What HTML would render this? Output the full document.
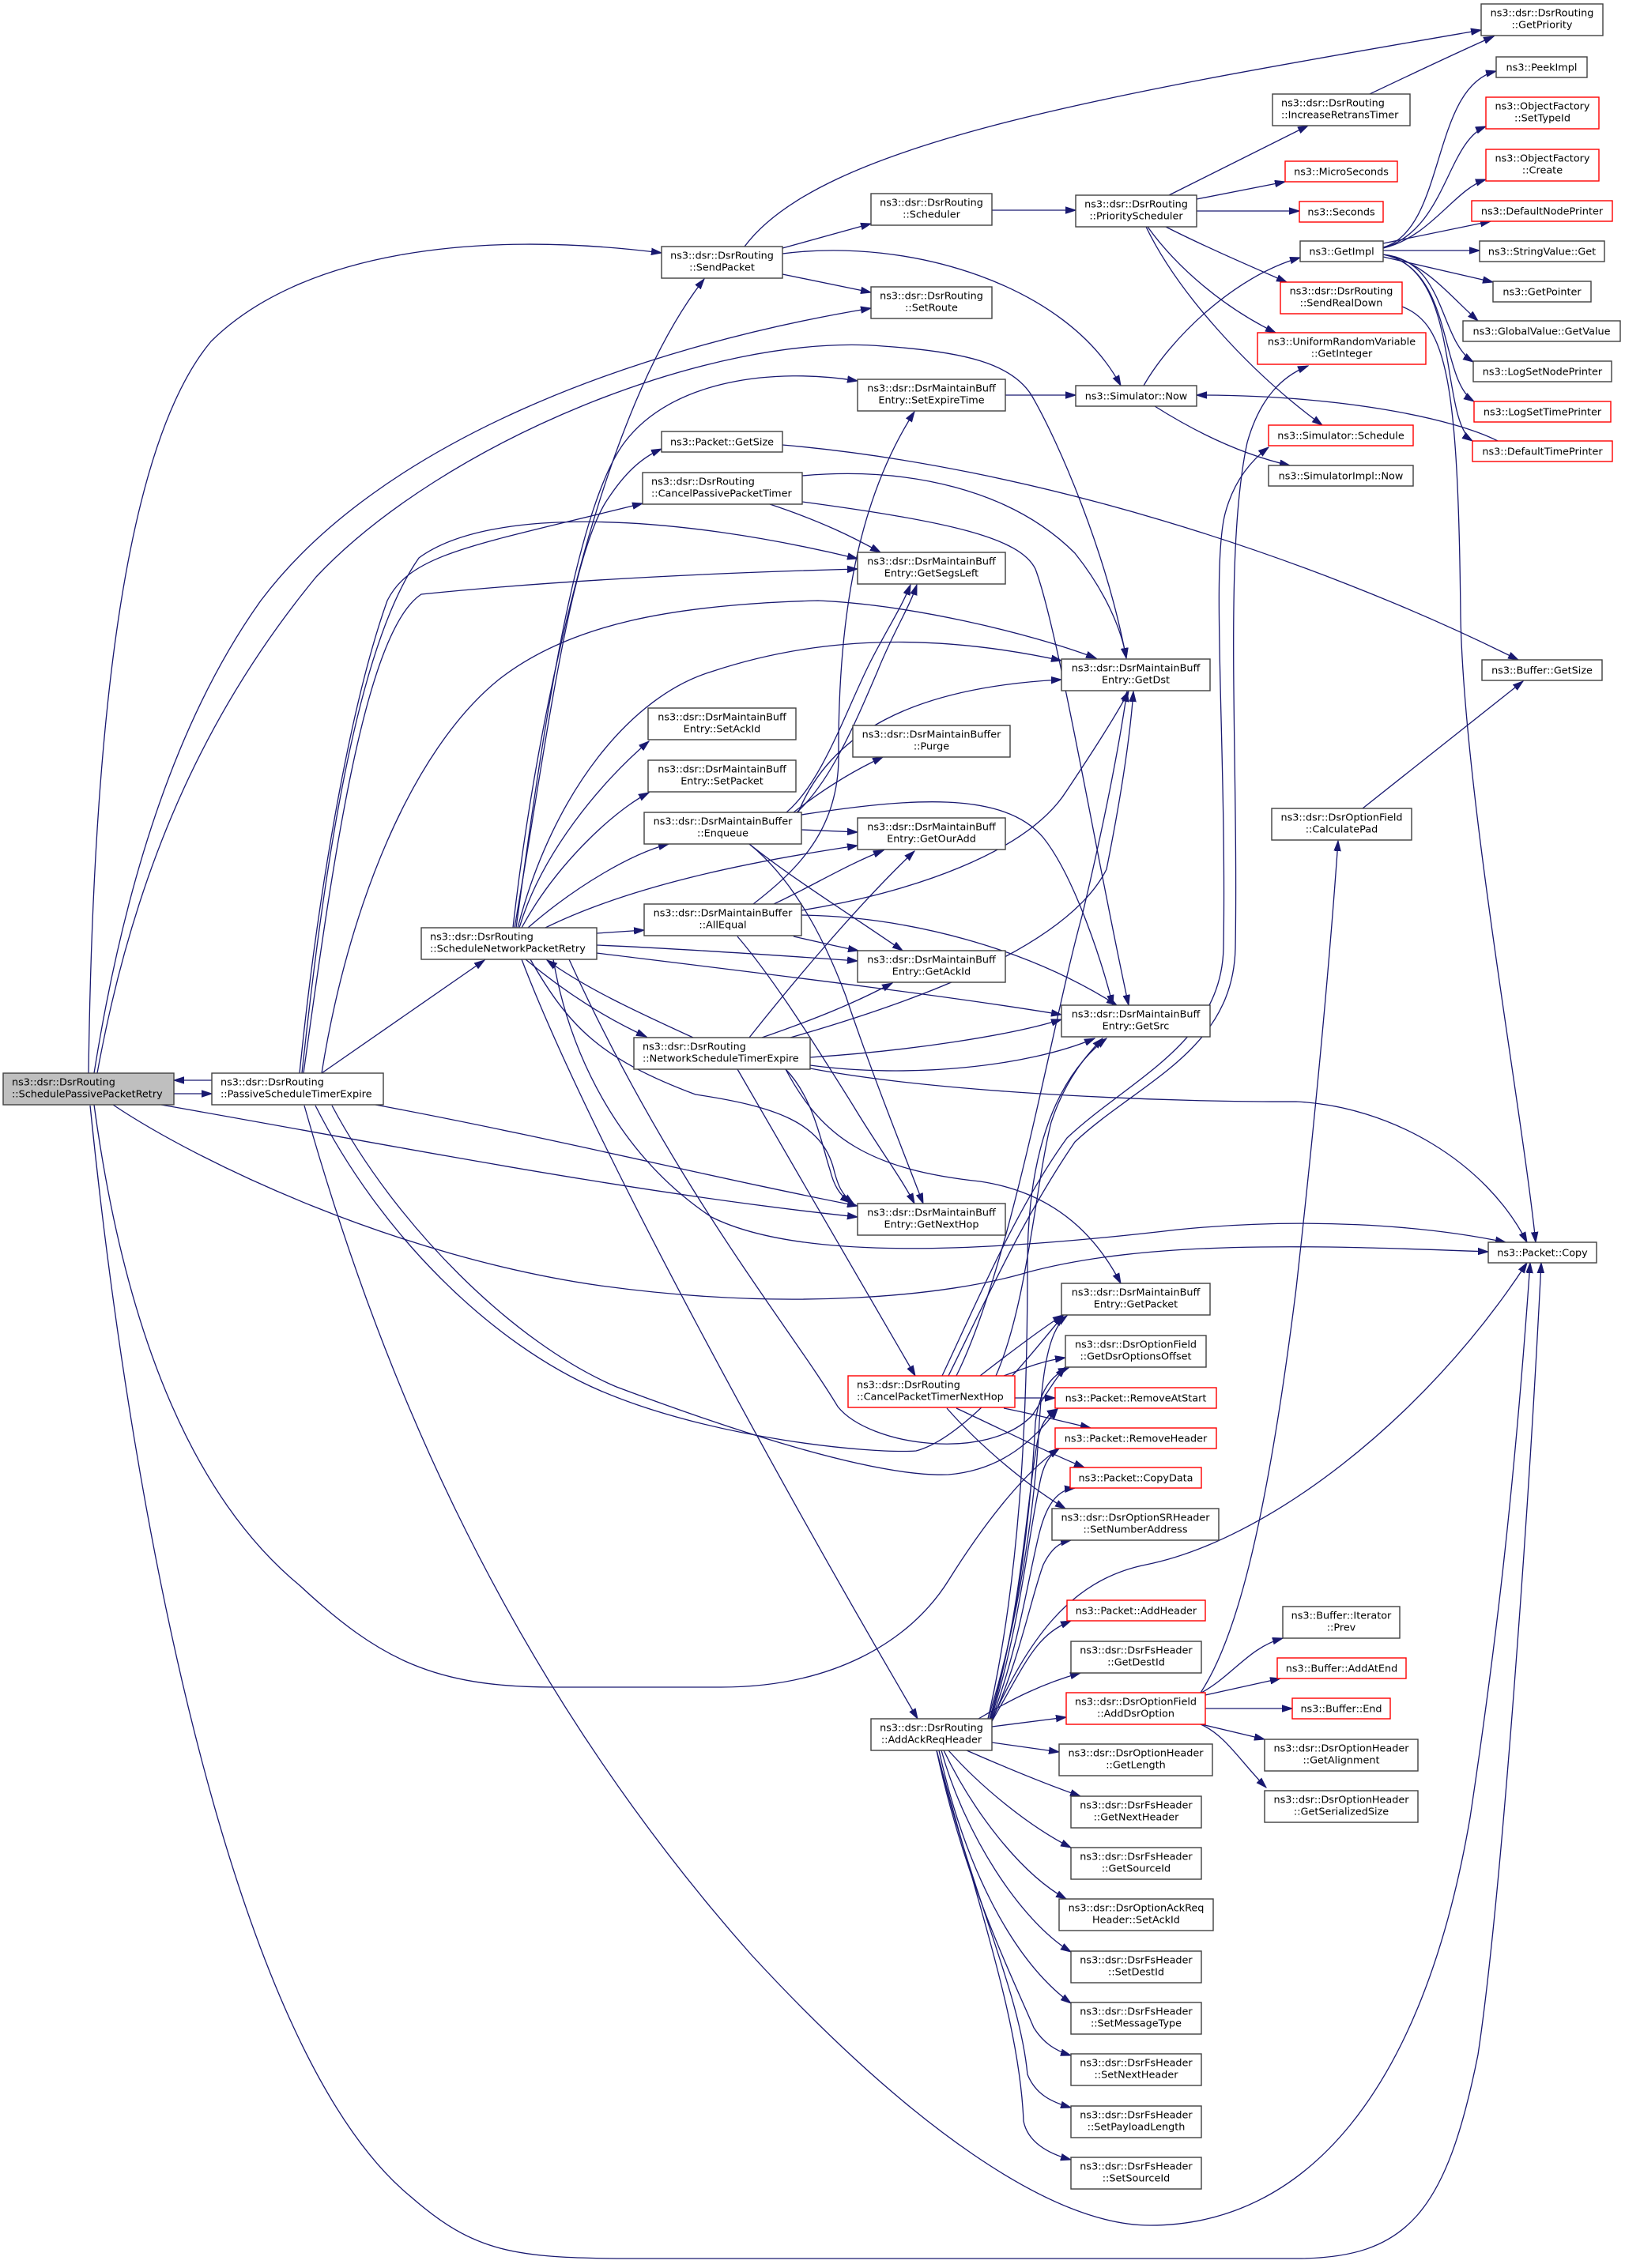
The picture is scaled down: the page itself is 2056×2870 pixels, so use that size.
<!DOCTYPE html>
<html><head><meta charset="utf-8"><style>
html,body{margin:0;padding:0;background:#fff}
svg{display:block}
text{font-family:"DejaVu Sans","Liberation Sans",sans-serif;font-size:12.8px;fill:#000}
.c{text-anchor:middle}
</style></head><body>
<svg xmlns="http://www.w3.org/2000/svg" width="2056" height="2870" viewBox="0 0 2056 2870">
<defs>
<marker id="a" markerUnits="userSpaceOnUse" markerWidth="14" markerHeight="10" refX="13" refY="5" orient="auto">
<path d="M0,0.8 L13,5 L0,9.2 z" fill="#191970" stroke="#191970" stroke-width="1"/>
</marker>
</defs>
<rect width="2056" height="2870" fill="#fff"/>
<g fill="none" stroke="#191970" stroke-width="1.3" marker-end="url(#a)">
<path d="M942,312 C1040,180 1400,120 1874,38"/>
<path d="M990,314 L1102,283"/>
<path d="M1255,266 L1361,266"/>
<path d="M990,347 L1102,370"/>
<path d="M990,321 C1150,300 1350,360 1418,488"/>
<path d="M1479,247 L1655,159"/>
<path d="M1733,119 C1790,92 1840,68 1890,46"/>
<path d="M1514,252 L1626,230"/>
<path d="M1514,267 L1644,267"/>
<path d="M1475,287 C1520,310 1580,336 1628,357"/>
<path d="M1452,287 C1490,340 1550,390 1614,421"/>
<path d="M1450,287 C1490,370 1580,470 1673,538"/>
<path d="M1447,488 C1480,430 1560,350 1645,326"/>
<path d="M1461,514 C1510,545 1570,575 1632,589"/>
<path d="M1895,558 C1840,530 1700,500 1514,500"/>
<path d="M1272,500 L1361,500"/>
<path d="M1750,313 C1830,290 1810,110 1893,90"/>
<path d="M1750,314 C1830,290 1830,180 1880,160"/>
<path d="M1750,314 C1810,300 1840,240 1880,227"/>
<path d="M1750,308 L1886,280"/>
<path d="M1750,317 L1872,317"/>
<path d="M1750,325 L1889,357"/>
<path d="M1750,322 C1800,330 1830,370 1870,406"/>
<path d="M1750,322 C1830,330 1820,430 1864,458"/>
<path d="M1750,322 C1840,340 1820,480 1865,508"/>
<path d="M1750,322 C1850,340 1820,530 1863,558"/>
<path d="M1774,388 C1830,410 1845,480 1848,780 C1852,1000 1925,1400 1943,1572"/>
<path d="M1200,1741 C1245,1650 1295,1540 1360,1445 C1440,1370 1560,1330 1563,1200 C1567,950 1548,700 1578,560 C1595,500 1625,475 1655,463"/>
<path d="M1192,1741 C1235,1650 1285,1530 1350,1440 C1430,1365 1545,1320 1548,1200 C1552,950 1532,720 1550,650 C1560,612 1580,585 1605,566"/>
<path d="M990,563 C1300,590 1650,700 1921,835"/>
<path d="M1724,1023 L1927,862"/>
<path d="M1519,2142 C1560,2080 1600,1950 1640,1630 C1660,1450 1680,1250 1693,1064"/>
<path d="M1255,2176 C1300,2080 1350,2000 1450,1980 C1600,1950 1800,1800 1932,1598"/>
<path d="M385,1399 C470,1700 620,2100 950,2473 C1150,2690 1330,2816 1455,2816 C1650,2816 1800,2650 1860,2300 C1890,2100 1915,1900 1936,1598"/>
<path d="M114,1399 C170,1950 300,2600 520,2780 C600,2850 650,2858 800,2858 L1640,2858 C1780,2858 1830,2800 1870,2600 C1900,2400 1935,1900 1950,1598"/>
<path d="M1025,1352 C1200,1385 1500,1395 1640,1394 C1760,1400 1880,1470 1932,1572"/>
<path d="M700,1214 C720,1330 780,1460 900,1540 C1000,1590 1200,1590 1490,1556 C1650,1540 1800,1550 1905,1572"/>
<path d="M143,1398 C250,1470 500,1590 760,1627 C1000,1660 1200,1640 1300,1610 C1450,1570 1650,1575 1883,1584"/>
<path d="M204,1398 C500,1450 800,1510 1085,1540"/>
<path d="M475,1398 C700,1440 900,1490 1085,1526"/>
<path d="M220,1384 L268,1384"/>
<path d="M268,1367 L220,1367"/>
<path d="M407,1358 L613,1215"/>
<path d="M665,1214 C720,1260 770,1290 818,1312"/>
<path d="M877,1313 C807,1281 740,1250 692,1215"/>
<path d="M112,1358 C118,900 160,560 267,432 C380,320 600,290 837,320"/>
<path d="M119,1358 C160,1100 230,900 330,760 C480,560 800,440 1102,390"/>
<path d="M123,1358 C170,1100 260,900 400,730 C560,560 900,420 1117,438 C1220,445 1280,460 1305,500 C1340,560 1400,700 1425,833"/>
<path d="M379,1358 C400,1150 440,900 490,760 C520,700 600,690 813,637"/>
<path d="M382,1358 C410,1100 450,820 530,706 C620,640 850,650 1085,707"/>
<path d="M384,1358 C420,1100 460,800 533,752 C700,735 900,725 1085,720"/>
<path d="M407,1358 C440,1150 520,950 631,860 C720,790 850,765 1035,760 C1150,765 1300,800 1387,833"/>
<path d="M649,1174 C680,900 760,520 891,353"/>
<path d="M651,1174 C690,950 720,700 770,630 C790,600 810,580 837,568"/>
<path d="M653,1174 C690,900 730,640 790,560 C850,480 980,465 1085,482"/>
<path d="M655,1174 C700,1000 800,880 900,850 C1050,800 1200,805 1343,836"/>
<path d="M657,1174 C685,1080 760,990 821,938"/>
<path d="M660,1174 C700,1100 770,1030 821,1003"/>
<path d="M668,1174 C730,1120 800,1080 846,1068"/>
<path d="M690,1174 C800,1120 950,1090 1085,1070"/>
<path d="M755,1181 L815,1177"/>
<path d="M755,1196 C850,1200 1000,1210 1085,1216"/>
<path d="M755,1206 C950,1230 1200,1260 1343,1284"/>
<path d="M671,1214 C720,1300 760,1340 880,1385 C980,1400 1040,1420 1055,1480 C1060,1500 1065,1512 1080,1523"/>
<path d="M660,1214 C750,1450 1000,1900 1161,2175"/>
<path d="M720,1214 C850,1500 1000,1680 1060,1780 C1100,1830 1250,1850 1306,1791 C1320,1770 1335,1745 1348,1730"/>
<path d="M974,638 C1040,660 1080,680 1114,699"/>
<path d="M1015,602 C1150,590 1280,620 1360,700 C1400,750 1420,800 1425,833"/>
<path d="M1015,635 C1200,660 1290,680 1310,720 C1340,800 1390,1100 1428,1272"/>
<path d="M995,1028 C1040,990 1070,900 1100,840 C1120,800 1140,770 1152,740"/>
<path d="M1008,1028 C1050,990 1080,920 1110,850 C1130,800 1150,770 1160,740"/>
<path d="M953,1144 C1010,1100 1060,1050 1061,960 C1060,800 1080,640 1157,521"/>
<path d="M1010,1028 C1050,930 1150,870 1343,860"/>
<path d="M1004,1028 C1040,1000 1080,975 1117,958"/>
<path d="M1014,1050 L1085,1053"/>
<path d="M948,1068 C1000,1110 1080,1160 1142,1203"/>
<path d="M948,1068 C1000,1110 1040,1180 1070,1260 C1100,1350 1140,1450 1168,1523"/>
<path d="M1014,1031 C1150,1010 1270,1000 1320,1060 C1360,1110 1395,1220 1408,1272"/>
<path d="M979,1144 C1030,1120 1070,1095 1118,1076"/>
<path d="M1004,1185 C1040,1193 1060,1198 1086,1203"/>
<path d="M1014,1152 C1150,1130 1300,1080 1350,1000 C1390,940 1415,900 1428,875"/>
<path d="M1014,1158 C1150,1160 1300,1200 1413,1272"/>
<path d="M933,1185 C980,1240 1030,1320 1080,1400 C1110,1450 1140,1490 1157,1523"/>
<path d="M948,1313 C990,1260 1080,1150 1157,1077"/>
<path d="M964,1313 C1030,1290 1080,1270 1129,1244"/>
<path d="M1000,1313 C1150,1270 1350,1200 1400,1100 C1420,1000 1430,930 1434,875"/>
<path d="M1025,1338 C1150,1330 1280,1310 1343,1290"/>
<path d="M1025,1348 C1150,1365 1300,1350 1385,1314"/>
<path d="M994,1353 C1030,1390 1040,1450 1050,1480 C1055,1500 1062,1512 1076,1522"/>
<path d="M994,1353 C1040,1440 1100,1480 1240,1495 C1340,1510 1390,1570 1418,1624"/>
<path d="M933,1353 C1000,1470 1100,1640 1158,1741"/>
<path d="M1210,1741 C1280,1600 1330,1300 1369,1159 C1395,1050 1415,950 1426,875"/>
<path d="M1260,1741 C1300,1650 1310,1500 1330,1420 C1350,1360 1380,1330 1395,1314"/>
<path d="M1240,1741 C1280,1710 1320,1680 1345,1664"/>
<path d="M1270,1741 C1300,1730 1320,1722 1348,1718"/>
<path d="M1284,1769 L1335,1769"/>
<path d="M1270,1782 C1310,1790 1350,1800 1380,1807"/>
<path d="M1210,1782 C1270,1810 1330,1840 1372,1857"/>
<path d="M1198,1782 C1240,1830 1300,1880 1348,1909"/>
<path d="M1250,2175 C1290,2000 1300,1800 1300,1600 C1300,1450 1340,1360 1400,1314"/>
<path d="M1250,2175 C1290,2050 1310,1900 1315,1800 C1320,1720 1330,1680 1350,1665"/>
<path d="M1252,2175 C1290,2050 1305,1900 1310,1800 C1315,1760 1330,1740 1352,1731"/>
<path d="M1253,2175 C1290,2050 1300,1900 1310,1840 C1315,1800 1325,1790 1338,1783"/>
<path d="M1254,2175 C1290,2060 1300,1950 1315,1880 C1320,1850 1330,1840 1340,1833"/>
<path d="M1255,2175 C1290,2080 1300,2000 1315,1940 C1325,1900 1340,1885 1360,1883"/>
<path d="M1255,2177 C1290,2100 1305,2020 1320,1980 C1330,1960 1340,1952 1355,1949"/>
<path d="M1255,2178 C1300,2100 1310,2070 1355,2051"/>
<path d="M1238,2175 C1280,2150 1320,2130 1367,2117"/>
<path d="M1255,2185 L1349,2173"/>
<path d="M1255,2205 L1340,2217"/>
<path d="M1223,2215 C1280,2240 1330,2260 1367,2273"/>
<path d="M1200,2215 C1240,2260 1300,2310 1355,2338"/>
<path d="M1194,2215 C1230,2290 1290,2370 1349,2403"/>
<path d="M1191,2215 C1220,2320 1290,2430 1355,2470"/>
<path d="M1188,2215 C1220,2360 1280,2480 1355,2535"/>
<path d="M1185,2215 C1220,2380 1280,2500 1308,2566 C1320,2585 1335,2595 1355,2601"/>
<path d="M1185,2215 C1230,2400 1290,2520 1300,2625 C1310,2650 1330,2660 1355,2667"/>
<path d="M1185,2215 C1240,2420 1290,2560 1295,2684 C1300,2710 1325,2725 1355,2733"/>
<path d="M1520,2142 C1560,2120 1580,2085 1623,2073"/>
<path d="M1525,2145 L1620,2124"/>
<path d="M1525,2162 L1635,2162"/>
<path d="M1520,2182 L1600,2201"/>
<path d="M1519,2182 C1550,2195 1570,2230 1602,2262"/>
<path d="M399,1399 C480,1560 620,1700 760,1760 C900,1820 1100,1840 1159,1836 C1220,1820 1300,1720 1345,1665"/>
<path d="M420,1399 C500,1550 650,1700 780,1755 C900,1800 1100,1870 1200,1866 C1270,1860 1310,1820 1338,1783"/>
<path d="M119,1398 C160,1700 250,1900 380,2007 C480,2100 550,2135 700,2135 L912,2135 C1050,2135 1150,2080 1200,2000 C1250,1920 1300,1860 1340,1833"/>
</g>
<g fill="#fff" stroke="#404040" stroke-width="1.4">
<rect x="4" y="1358" width="216" height="40" fill="#bfbfbf"/>
<rect x="268" y="1358" width="217" height="40"/>
<rect x="533" y="1174" width="222" height="40"/>
<rect x="837" y="312" width="153" height="40"/>
<rect x="837" y="546" width="153" height="26"/>
<rect x="813" y="598" width="202" height="40"/>
<rect x="820" y="896" width="187" height="40"/>
<rect x="820" y="962" width="187" height="40"/>
<rect x="815" y="1028" width="199" height="40"/>
<rect x="815" y="1144" width="199" height="40"/>
<rect x="802" y="1313" width="223" height="40"/>
<rect x="1102" y="2175" width="153" height="40"/>
<rect x="1102" y="245" width="153" height="40"/>
<rect x="1102" y="363" width="153" height="40"/>
<rect x="1085" y="480" width="187" height="40"/>
<rect x="1085" y="699" width="187" height="40"/>
<rect x="1079" y="918" width="199" height="40"/>
<rect x="1085" y="1035" width="187" height="40"/>
<rect x="1085" y="1203" width="187" height="40"/>
<rect x="1085" y="1523" width="187" height="40"/>
<rect x="1361" y="247" width="153" height="40"/>
<rect x="1361" y="488" width="153" height="26"/>
<rect x="1343" y="834" width="188" height="40"/>
<rect x="1343" y="1272" width="188" height="40"/>
<rect x="1343" y="1624" width="188" height="40"/>
<rect x="1348" y="1690" width="178" height="40"/>
<rect x="1331" y="1909" width="211" height="40"/>
<rect x="1355" y="2077" width="165" height="40"/>
<rect x="1340" y="2207" width="194" height="40"/>
<rect x="1355" y="2273" width="165" height="40"/>
<rect x="1355" y="2338" width="165" height="40"/>
<rect x="1340" y="2403" width="195" height="40"/>
<rect x="1355" y="2469" width="165" height="40"/>
<rect x="1355" y="2534" width="165" height="40"/>
<rect x="1355" y="2599" width="165" height="40"/>
<rect x="1355" y="2665" width="165" height="40"/>
<rect x="1355" y="2730" width="165" height="40"/>
<rect x="1610" y="119" width="174" height="40"/>
<rect x="1645" y="305" width="105" height="26"/>
<rect x="1605" y="589" width="183" height="26"/>
<rect x="1609" y="1023" width="177" height="40"/>
<rect x="1623" y="2033" width="148" height="40"/>
<rect x="1600" y="2201" width="194" height="40"/>
<rect x="1600" y="2266" width="194" height="40"/>
<rect x="1874" y="5" width="154" height="40"/>
<rect x="1893" y="72" width="115" height="26"/>
<rect x="1872" y="305" width="158" height="26"/>
<rect x="1889" y="356" width="124" height="26"/>
<rect x="1851" y="406" width="199" height="26"/>
<rect x="1864" y="457" width="175" height="26"/>
<rect x="1875" y="835" width="152" height="26"/>
<rect x="1883" y="1572" width="137" height="26"/>
</g>
<g fill="#fff" stroke="#ff0000" stroke-width="1.4">
<rect x="1073" y="1741" width="211" height="40"/>
<rect x="1335" y="1756" width="204" height="26"/>
<rect x="1335" y="1807" width="204" height="26"/>
<rect x="1354" y="1857" width="166" height="26"/>
<rect x="1350" y="2025" width="175" height="26"/>
<rect x="1349" y="2142" width="176" height="40"/>
<rect x="1626" y="204" width="142" height="26"/>
<rect x="1644" y="255" width="106" height="26"/>
<rect x="1620" y="357" width="154" height="40"/>
<rect x="1591" y="421" width="213" height="40"/>
<rect x="1605" y="538" width="183" height="26"/>
<rect x="1616" y="2098" width="163" height="26"/>
<rect x="1635" y="2149" width="124" height="26"/>
<rect x="1880" y="123" width="143" height="40"/>
<rect x="1880" y="189" width="143" height="40"/>
<rect x="1862" y="254" width="178" height="26"/>
<rect x="1865" y="508" width="173" height="26"/>
<rect x="1863" y="558" width="177" height="26"/>
</g>
<g>
<text x="15" y="1373.5">ns3::dsr::DsrRouting</text><text x="15" y="1388.5">::SchedulePassivePacketRetry</text>
<text x="279" y="1373.5">ns3::dsr::DsrRouting</text><text x="279" y="1388.5">::PassiveScheduleTimerExpire</text>
<text x="544" y="1189.5">ns3::dsr::DsrRouting</text><text x="544" y="1204.5">::ScheduleNetworkPacketRetry</text>
<text class="c" x="913.5" y="327.5">ns3::dsr::DsrRouting</text><text class="c" x="913.5" y="342.5">::SendPacket</text>
<text class="c" x="913.5" y="563.5">ns3::Packet::GetSize</text>
<text x="824" y="613.5">ns3::dsr::DsrRouting</text><text x="824" y="628.5">::CancelPassivePacketTimer</text>
<text class="c" x="913.5" y="911.5">ns3::dsr::DsrMaintainBuff</text><text class="c" x="913.5" y="926.5">Entry::SetAckId</text>
<text class="c" x="913.5" y="977.5">ns3::dsr::DsrMaintainBuff</text><text class="c" x="913.5" y="992.5">Entry::SetPacket</text>
<text class="c" x="914.5" y="1043.5">ns3::dsr::DsrMaintainBuffer</text><text class="c" x="914.5" y="1058.5">::Enqueue</text>
<text class="c" x="914.5" y="1159.5">ns3::dsr::DsrMaintainBuffer</text><text class="c" x="914.5" y="1174.5">::AllEqual</text>
<text x="813" y="1328.5">ns3::dsr::DsrRouting</text><text x="813" y="1343.5">::NetworkScheduleTimerExpire</text>
<text x="1084" y="1756.5">ns3::dsr::DsrRouting</text><text x="1084" y="1771.5">::CancelPacketTimerNextHop</text>
<text class="c" x="1178.5" y="2190.5">ns3::dsr::DsrRouting</text><text class="c" x="1178.5" y="2205.5">::AddAckReqHeader</text>
<text class="c" x="1178.5" y="260.5">ns3::dsr::DsrRouting</text><text class="c" x="1178.5" y="275.5">::Scheduler</text>
<text class="c" x="1178.5" y="378.5">ns3::dsr::DsrRouting</text><text class="c" x="1178.5" y="393.5">::SetRoute</text>
<text class="c" x="1178.5" y="495.5">ns3::dsr::DsrMaintainBuff</text><text class="c" x="1178.5" y="510.5">Entry::SetExpireTime</text>
<text class="c" x="1178.5" y="714.5">ns3::dsr::DsrMaintainBuff</text><text class="c" x="1178.5" y="729.5">Entry::GetSegsLeft</text>
<text class="c" x="1178.5" y="933.5">ns3::dsr::DsrMaintainBuffer</text><text class="c" x="1178.5" y="948.5">::Purge</text>
<text class="c" x="1178.5" y="1050.5">ns3::dsr::DsrMaintainBuff</text><text class="c" x="1178.5" y="1065.5">Entry::GetOurAdd</text>
<text class="c" x="1178.5" y="1218.5">ns3::dsr::DsrMaintainBuff</text><text class="c" x="1178.5" y="1233.5">Entry::GetAckId</text>
<text class="c" x="1178.5" y="1538.5">ns3::dsr::DsrMaintainBuff</text><text class="c" x="1178.5" y="1553.5">Entry::GetNextHop</text>
<text class="c" x="1437.5" y="262.5">ns3::dsr::DsrRouting</text><text class="c" x="1437.5" y="277.5">::PriorityScheduler</text>
<text class="c" x="1437.5" y="505.5">ns3::Simulator::Now</text>
<text class="c" x="1437" y="849.5">ns3::dsr::DsrMaintainBuff</text><text class="c" x="1437" y="864.5">Entry::GetDst</text>
<text class="c" x="1437" y="1287.5">ns3::dsr::DsrMaintainBuff</text><text class="c" x="1437" y="1302.5">Entry::GetSrc</text>
<text class="c" x="1437" y="1639.5">ns3::dsr::DsrMaintainBuff</text><text class="c" x="1437" y="1654.5">Entry::GetPacket</text>
<text class="c" x="1437" y="1705.5">ns3::dsr::DsrOptionField</text><text class="c" x="1437" y="1720.5">::GetDsrOptionsOffset</text>
<text class="c" x="1437" y="1773.5">ns3::Packet::RemoveAtStart</text>
<text class="c" x="1437" y="1824.5">ns3::Packet::RemoveHeader</text>
<text class="c" x="1437" y="1874.5">ns3::Packet::CopyData</text>
<text class="c" x="1436.5" y="1924.5">ns3::dsr::DsrOptionSRHeader</text><text class="c" x="1436.5" y="1939.5">::SetNumberAddress</text>
<text class="c" x="1437.5" y="2042.5">ns3::Packet::AddHeader</text>
<text class="c" x="1437.5" y="2092.5">ns3::dsr::DsrFsHeader</text><text class="c" x="1437.5" y="2107.5">::GetDestId</text>
<text class="c" x="1437" y="2157.5">ns3::dsr::DsrOptionField</text><text class="c" x="1437" y="2172.5">::AddDsrOption</text>
<text class="c" x="1437" y="2222.5">ns3::dsr::DsrOptionHeader</text><text class="c" x="1437" y="2237.5">::GetLength</text>
<text class="c" x="1437.5" y="2288.5">ns3::dsr::DsrFsHeader</text><text class="c" x="1437.5" y="2303.5">::GetNextHeader</text>
<text class="c" x="1437.5" y="2353.5">ns3::dsr::DsrFsHeader</text><text class="c" x="1437.5" y="2368.5">::GetSourceId</text>
<text class="c" x="1437.5" y="2418.5">ns3::dsr::DsrOptionAckReq</text><text class="c" x="1437.5" y="2433.5">Header::SetAckId</text>
<text class="c" x="1437.5" y="2484.5">ns3::dsr::DsrFsHeader</text><text class="c" x="1437.5" y="2499.5">::SetDestId</text>
<text class="c" x="1437.5" y="2549.5">ns3::dsr::DsrFsHeader</text><text class="c" x="1437.5" y="2564.5">::SetMessageType</text>
<text class="c" x="1437.5" y="2614.5">ns3::dsr::DsrFsHeader</text><text class="c" x="1437.5" y="2629.5">::SetNextHeader</text>
<text class="c" x="1437.5" y="2680.5">ns3::dsr::DsrFsHeader</text><text class="c" x="1437.5" y="2695.5">::SetPayloadLength</text>
<text class="c" x="1437.5" y="2745.5">ns3::dsr::DsrFsHeader</text><text class="c" x="1437.5" y="2760.5">::SetSourceId</text>
<text x="1621" y="134.5">ns3::dsr::DsrRouting</text><text x="1621" y="149.5">::IncreaseRetransTimer</text>
<text class="c" x="1697" y="221.5">ns3::MicroSeconds</text>
<text class="c" x="1697" y="272.5">ns3::Seconds</text>
<text class="c" x="1697.5" y="322.5">ns3::GetImpl</text>
<text class="c" x="1697" y="372.5">ns3::dsr::DsrRouting</text><text class="c" x="1697" y="387.5">::SendRealDown</text>
<text class="c" x="1697.5" y="436.5">ns3::UniformRandomVariable</text><text class="c" x="1697.5" y="451.5">::GetInteger</text>
<text class="c" x="1696.5" y="555.5">ns3::Simulator::Schedule</text>
<text class="c" x="1696.5" y="606.5">ns3::SimulatorImpl::Now</text>
<text class="c" x="1697.5" y="1038.5">ns3::dsr::DsrOptionField</text><text class="c" x="1697.5" y="1053.5">::CalculatePad</text>
<text class="c" x="1697" y="2048.5">ns3::Buffer::Iterator</text><text class="c" x="1697" y="2063.5">::Prev</text>
<text class="c" x="1697.5" y="2115.5">ns3::Buffer::AddAtEnd</text>
<text class="c" x="1697" y="2166.5">ns3::Buffer::End</text>
<text class="c" x="1697" y="2216.5">ns3::dsr::DsrOptionHeader</text><text class="c" x="1697" y="2231.5">::GetAlignment</text>
<text class="c" x="1697" y="2281.5">ns3::dsr::DsrOptionHeader</text><text class="c" x="1697" y="2296.5">::GetSerializedSize</text>
<text class="c" x="1951" y="20.5">ns3::dsr::DsrRouting</text><text class="c" x="1951" y="35.5">::GetPriority</text>
<text class="c" x="1950.5" y="89.5">ns3::PeekImpl</text>
<text class="c" x="1951.5" y="138.5">ns3::ObjectFactory</text><text class="c" x="1951.5" y="153.5">::SetTypeId</text>
<text class="c" x="1951.5" y="204.5">ns3::ObjectFactory</text><text class="c" x="1951.5" y="219.5">::Create</text>
<text class="c" x="1951" y="271.5">ns3::DefaultNodePrinter</text>
<text class="c" x="1951" y="322.5">ns3::StringValue::Get</text>
<text class="c" x="1951" y="373.5">ns3::GetPointer</text>
<text class="c" x="1950.5" y="423.5">ns3::GlobalValue::GetValue</text>
<text class="c" x="1951.5" y="474.5">ns3::LogSetNodePrinter</text>
<text class="c" x="1951.5" y="525.5">ns3::LogSetTimePrinter</text>
<text class="c" x="1951.5" y="575.5">ns3::DefaultTimePrinter</text>
<text class="c" x="1951" y="852.5">ns3::Buffer::GetSize</text>
<text class="c" x="1951.5" y="1589.5">ns3::Packet::Copy</text>
</g>
</svg>
</body></html>
